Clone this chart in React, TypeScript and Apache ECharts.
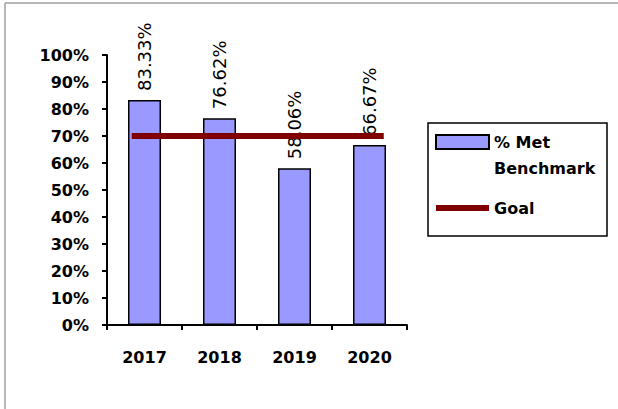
import React, { useEffect, useRef } from "react";
import * as echarts from "echarts";

const years = ["2017", "2018", "2019", "2020"];
const metBenchmark = [83.33, 76.62, 58.06, 66.67];
const goalValue = 70;
const goalSpan = [-0.17, 3.19];
const yTicks = { min: 0, max: 100, interval: 10 };
const seriesNames = ["% Met Benchmark", "Goal"];

const FONT = "DejaVu Sans";

export default function App() {
  const ref = useRef<HTMLDivElement>(null);
  useEffect(() => {
    if (!ref.current) return;
    const chart = echarts.init(ref.current, null, { renderer: "svg" });
    chart.setOption({
      animation: false,
      backgroundColor: "#ffffff",
      textStyle: { fontFamily: FONT },
      grid: { left: 107, right: 211, top: 55, bottom: 84 },
      xAxis: [
        {
          type: "category",
          data: years,
          axisLine: { onZero: false, lineStyle: { color: "#000", width: 2 } },
          axisTick: { show: true, length: 5, lineStyle: { color: "#000", width: 2 } },
          axisLabel: { color: "#000", fontWeight: "bold", fontSize: 16, fontFamily: FONT, margin: 24 },
          splitLine: { show: false },
        },
        {
          type: "value",
          min: -0.5,
          max: 3.5,
          show: false,
          splitLine: { show: false },
          axisLine: { show: false, onZero: false },
          axisTick: { show: false },
          axisLabel: { show: false },
        },
      ],
      yAxis: {
        type: "value",
        min: yTicks.min,
        max: yTicks.max,
        interval: yTicks.interval,
        axisLine: { show: true, onZero: false, lineStyle: { color: "#000", width: 2 } },
        axisTick: { show: true, length: 5, lineStyle: { color: "#000", width: 2 } },
        splitLine: { show: false },
        axisLabel: {
          color: "#000",
          fontWeight: "bold",
          fontSize: 16,
          fontFamily: FONT,
          margin: 18,
          formatter: "{value}%",
        },
      },
      legend: {
        orient: "vertical",
        left: 430,
        top: 98,
        itemWidth: 53,
        itemHeight: 14,
        itemGap: 14,
        formatter: (n: string) => (n === seriesNames[0] ? "\n% Met\nBenchmark" : n),
        textStyle: { color: "#000", fontWeight: "bold", fontSize: 16, fontFamily: FONT, lineHeight: 26 },
        data: [
          { name: seriesNames[0], icon: "rect" },
          { name: seriesNames[1], icon: "path://M0,0H53V6H0Z" },
        ],
      },
      graphic: [
        { type: "line", shape: { x1: 5, y1: 3, x2: 618, y2: 3 }, style: { stroke: "#a0a0a0", lineWidth: 1.5 } },
        { type: "line", shape: { x1: 5, y1: 3, x2: 5, y2: 409 }, style: { stroke: "#a0a0a0", lineWidth: 1.5 } },
        {
          type: "rect",
          shape: { x: 428, y: 123, width: 179, height: 113 },
          style: { fill: "none", stroke: "#000", lineWidth: 1.5 },
        },
      ],
      series: [
        {
          name: seriesNames[0],
          type: "bar",
          data: metBenchmark,
          barWidth: 33,
          itemStyle: { color: "#9999ff", borderColor: "#000", borderWidth: 1.5 },
          label: {
            show: true,
            position: "top",
            rotate: 90,
            align: "left",
            verticalAlign: "middle",
            distance: 9,
            color: "#000",
            fontSize: 18,
            fontFamily: FONT,
            formatter: (p: any) => p.value.toFixed(2) + "%",
          },
          z: 2,
        },
        {
          name: seriesNames[1],
          type: "line",
          xAxisIndex: 1,
          data: goalSpan.map((x) => [x, goalValue]),
          symbol: "none",
          lineStyle: { color: "#800000", width: 6 },
          itemStyle: { color: "#800000" },
          z: 3,
        },
      ],
    });
    return () => chart.dispose();
  }, []);
  return <div ref={ref} style={{ position: "absolute", left: 0, top: 0, width: 618, height: 409 }} />;
}
